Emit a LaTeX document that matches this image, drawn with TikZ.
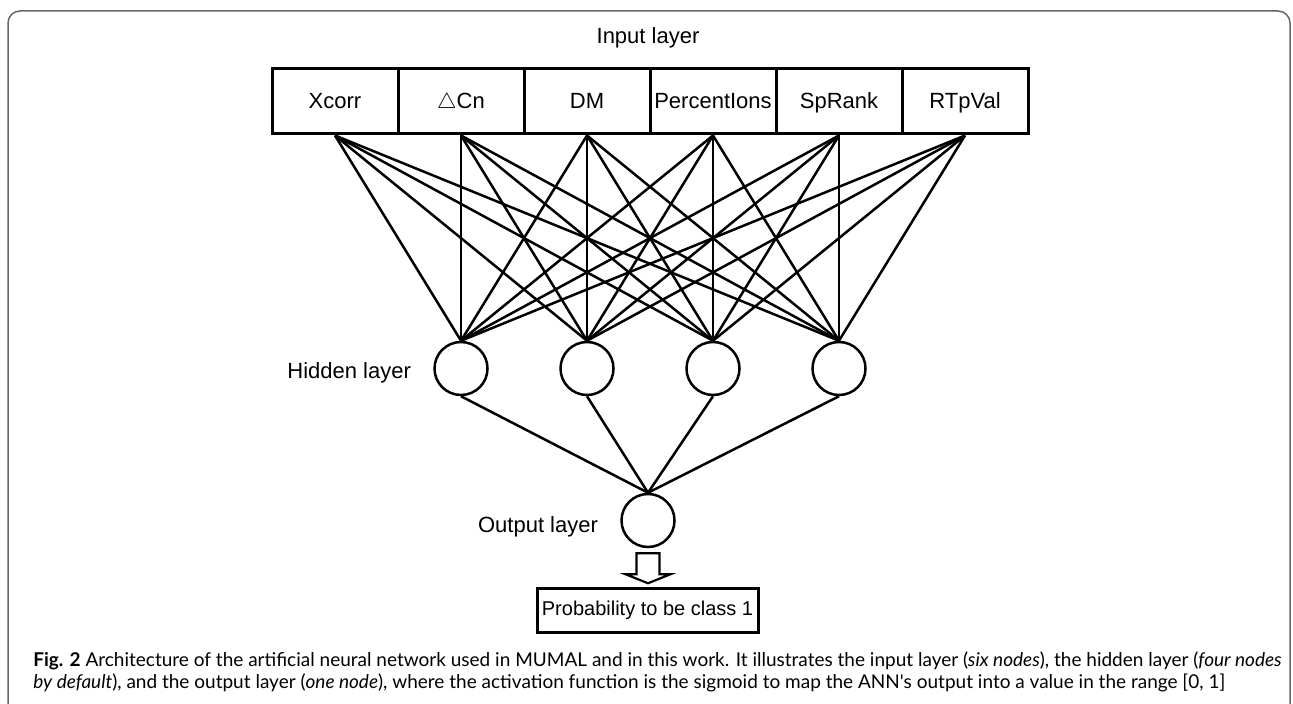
\documentclass[tikz,border=0pt]{standalone}
\usepackage{amsmath}
\usepackage{amssymb}
\usepackage{fontspec}
\usepackage{tikz}
\setmainfont{Liberation Sans}
\newfontfamily\capfont{Lato}
\usetikzlibrary{calc}

\begin{document}
\begin{tikzpicture}[x=0.5pt, y=-0.5pt,
        every node/.style={font=\fontsize{11}{13}\selectfont}]
        \tikzstyle{inputStyle} = [rectangle,draw=black,line width=1.5pt,
            minimum width=63pt,minimum height=32.5pt,inner sep=0pt,
            text height=1.5ex,text depth=0.25ex]
        \tikzstyle{neuronStyle} = [circle,draw=black,fill=white,
            line width=1.25pt,minimum size=26.5pt,inner sep=0pt]
        \tikzstyle{blackEdge} = [draw=black, line width=1.25pt]
        \useasboundingbox (0,0) rectangle (1293,704);
        \draw[black!60, line width=0.75pt, rounded corners=6pt]
            (8,704) -- (8,11) -- (1290,11) -- (1290,704);
        \node (in) at (648,38) {Input layer};
        \node[inputStyle] (i1) at (335,101.5) {Xcorr};
        \node[inputStyle] (i2) at (461,101.5) {$\triangle$Cn};
        \node[inputStyle] (i3) at (587,101.5) {DM};
        \node[inputStyle] (i4) at (713,101.5) {PercentIons};
        \node[inputStyle] (i5) at (839,101.5) {SpRank};
        \node[inputStyle] (i6) at (965,101.5) {RTpVal};
        \node[neuronStyle] (h1) at (461,368.5) {};
        \node[neuronStyle] (h2) at (587,368.5) {};
        \node[neuronStyle] (h3) at (713,368.5) {};
        \node[neuronStyle] (h4) at (839,368.5) {};
        \node[neuronStyle] (o) at (648,520.5) {};
        \node[anchor=east] (hl) at (418,373) {Hidden layer};
        \node[anchor=east] (ol) at (605,527) {Output layer};
        \node[draw=black,line width=1.5pt,minimum width=110.5pt,
            minimum height=22pt,inner sep=0pt,
            font=\fontsize{10}{12}\selectfont] (p) at (647.5,610)
            {Probability to be class 1};
        \foreach \from in {1,...,6}
            \foreach \to in {1,...,4}
                \path[blackEdge] (i\from.south) edge (h\to.north);
        \foreach \from in {1,...,4}
            \path[blackEdge] (h\from.south) edge (o.north);
        \draw[black, line width=1.1pt, fill=white]
            ($(o.south)+(-11.5,5)$) -- ++(0,21) -- ++(-11,0)
            -- ++(22.5,9) -- ++(22.5,-9) -- ++(-11,0) -- ++(0,-21) -- cycle;
        \node[anchor=west, align=left, inner sep=0pt,
            font=\capfont\fontsize{9.5}{11}\selectfont] (cap) at (33,672)
            {\textbf{Fig. 2} Architecture of the artificial neural network used in MUMAL and in this work. It illustrates the input layer (\textit{six nodes}), the hidden layer (\textit{four nodes}\\
            \textit{by default}), and the output layer (\textit{one node}), where the activation function is the sigmoid to map the ANN's output into a value in the range [0, 1]};
\end{tikzpicture}
\end{document}
